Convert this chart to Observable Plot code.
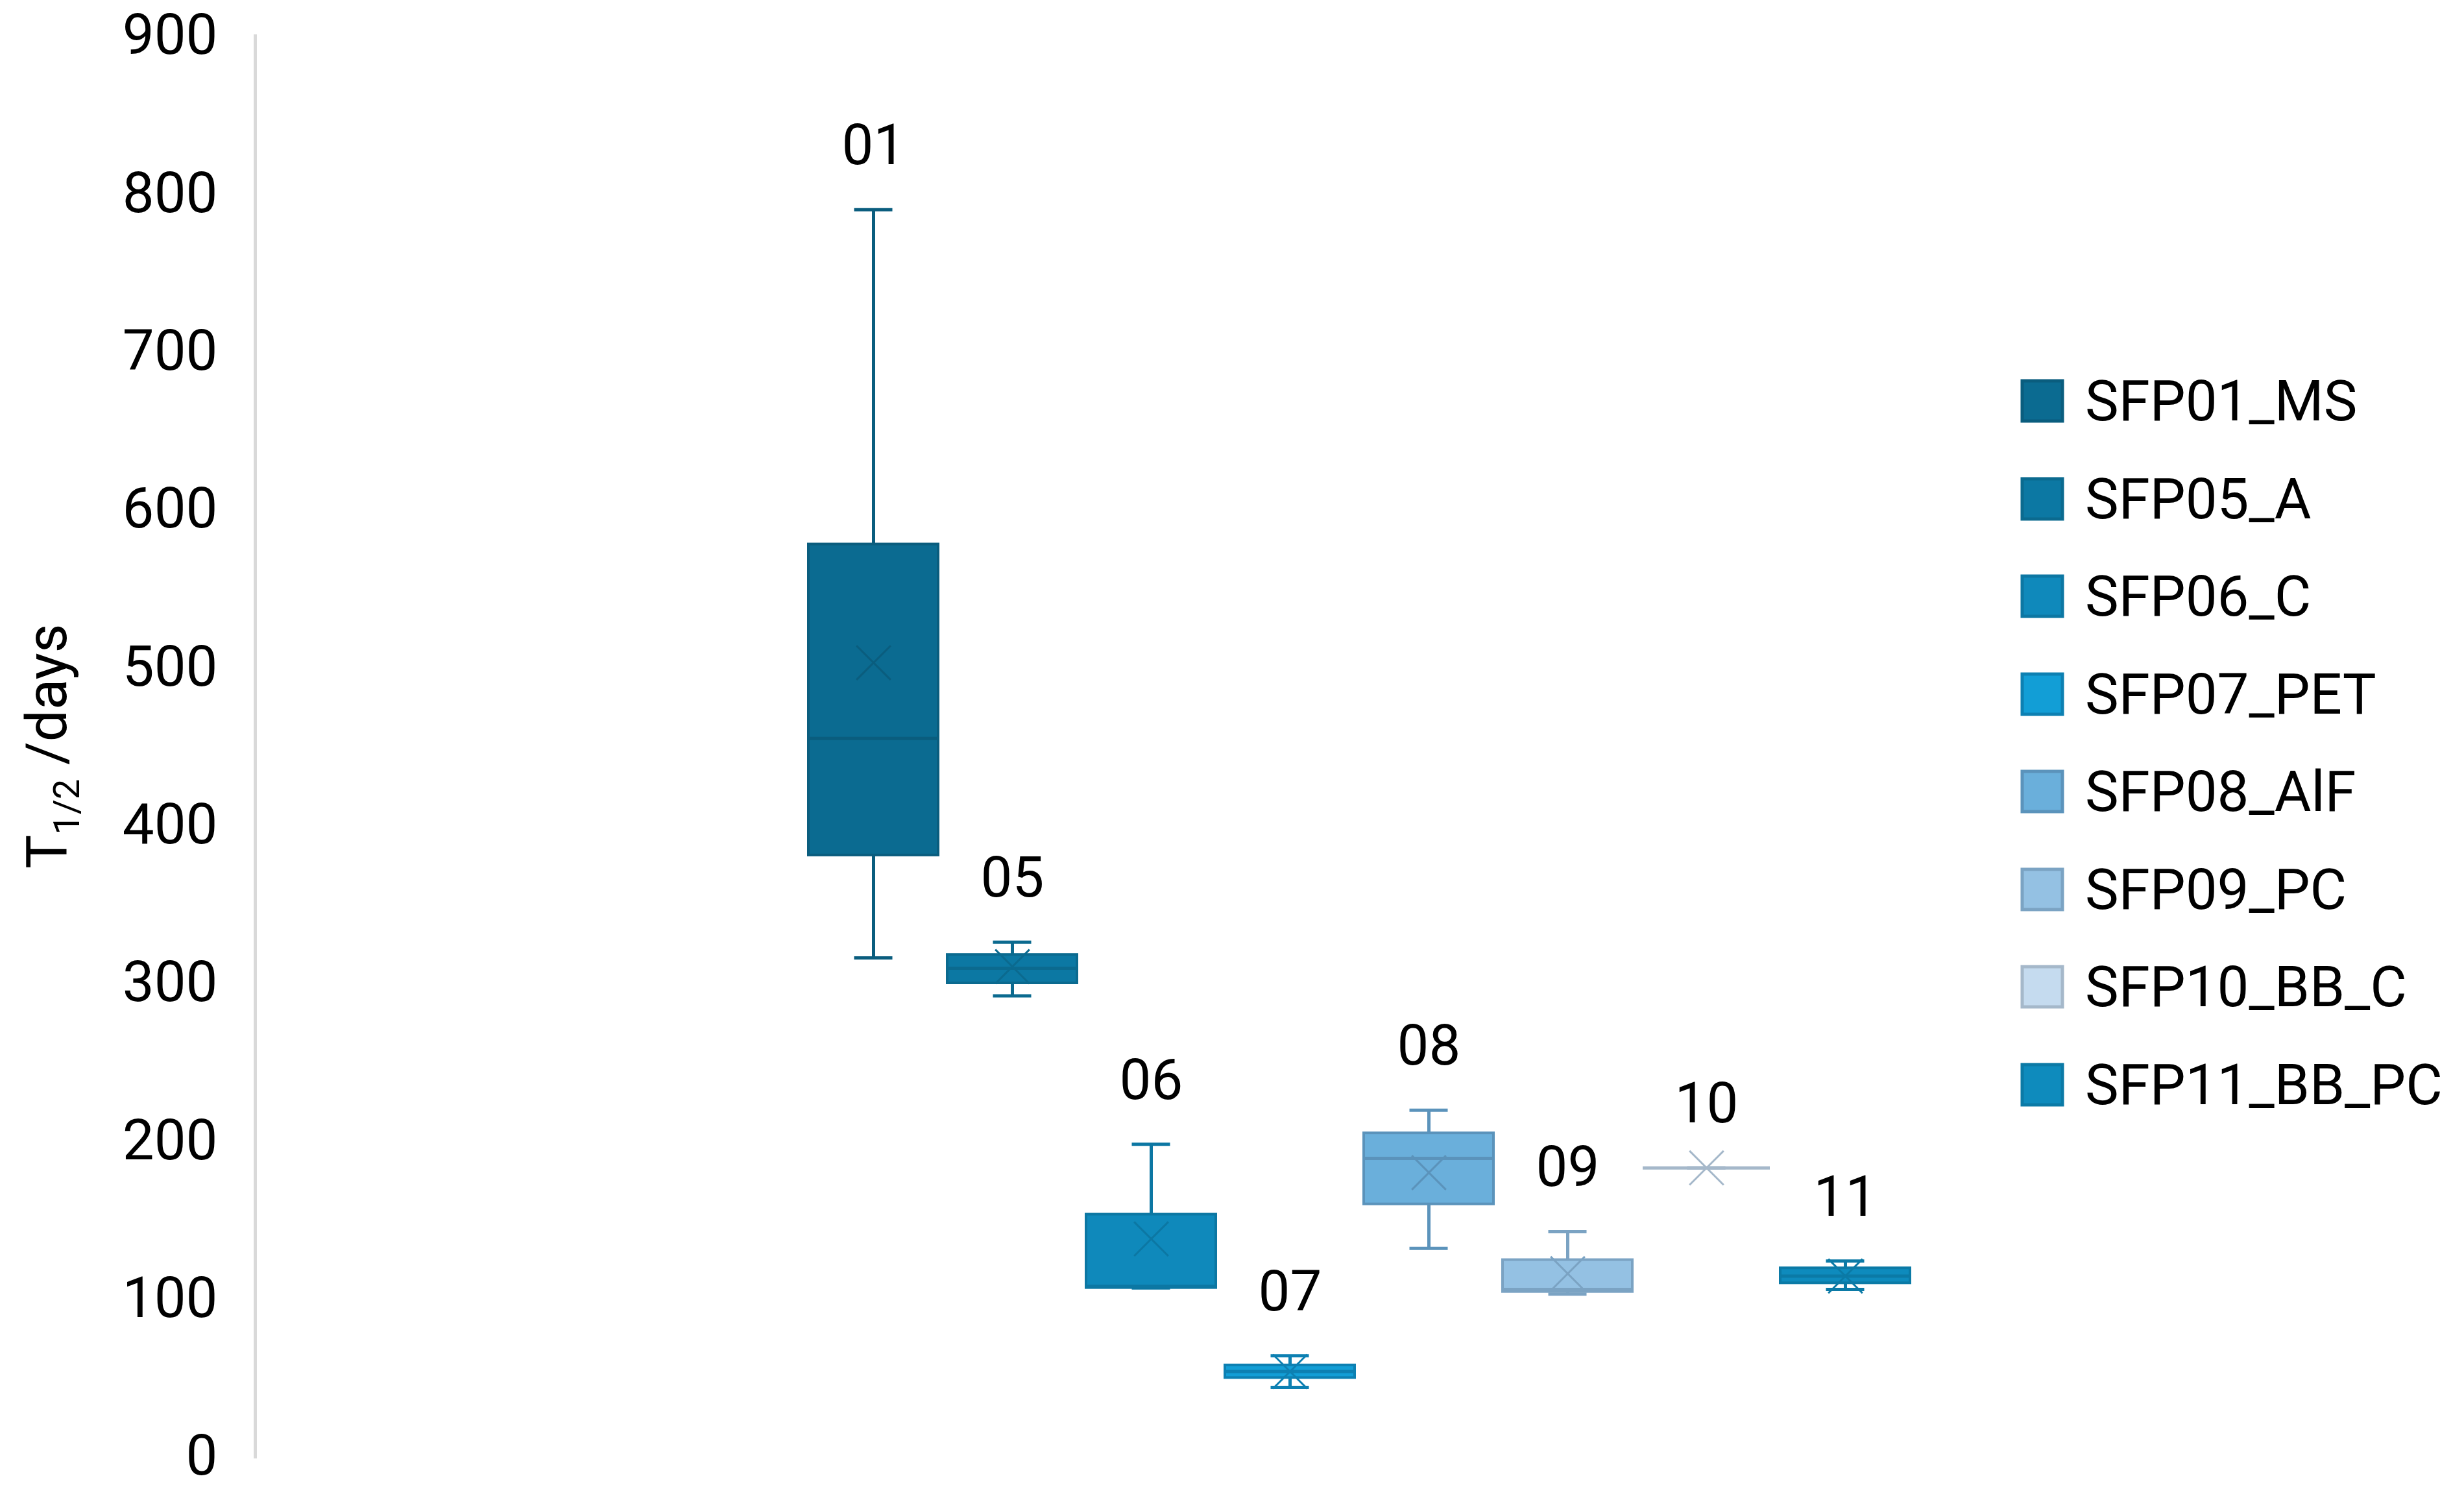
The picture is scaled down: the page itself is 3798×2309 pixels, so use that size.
<!DOCTYPE html>
<html><head><meta charset="utf-8">
<script src="https://cdn.jsdelivr.net/npm/d3@7"></script>
<script src="https://cdn.jsdelivr.net/npm/@observablehq/plot@0.6"></script>
<style>
html,body{margin:0;padding:0;background:#fff;}
#wrap{position:relative;width:3798px;height:2309px;overflow:hidden;font-family:Roboto,sans-serif;background:#fff;}
#chart{position:absolute;left:0;top:0;}
#legend{position:absolute;left:3117px;top:543px;}
#legend .lg-swatches{font-family:Roboto,sans-serif;font-size:87px;color:#000;margin:0;}
#legend .lg-swatches > div{height:150.5px;padding-bottom:0;display:flex;align-items:center;}
#legend .lg-swatches svg{margin-right:35px;overflow:visible;}
</style></head><body>
<div id="wrap"><div id="chart"></div><div id="legend"></div></div>
<script>
const series = ["SFP01_MS","SFP05_A","SFP06_C","SFP07_PET","SFP08_AlF","SFP09_PC","SFP10_BB_C","SFP11_BB_PC"];
const labels = ["01","05","06","07","08","09","10","11"];
const mins    = [316, 292, 107, 44, 132, 103, 183, 106];
const q1s     = [381, 300, 107, 50, 160, 104.5, 183, 110];
const medians = [455, 309.5, 108, 54, 189, 106, 183, 114.5];
const q3s     = [578, 318, 153.5, 58, 205, 124.7, 183, 119.5];
const maxs    = [790, 326, 198, 64, 219.6, 142.6, 183, 124];
const means   = [503, 310.5, 138, 54, 180, 116, 183, 114.5];
const fills   = ["#0b6b91","#0c78a3","#0f89bb","#129ed6","#6aafdb","#94c1e3","#c5dbef","#0e8bbd"];
const strokes = ["#0a5d7e","#0b6a8f","#0c77a3","#0d80b2","#5b93bb","#7ba3c3","#a5b8ca","#0b7aa6"];
const yTicks  = [0,100,200,300,400,500,600,700,800,900];

const data = series.map((s, i) => ({
  series: s, label: labels[i], min: mins[i], q1: q1s[i], median: medians[i],
  q3: q3s[i], max: maxs[i], mean: means[i], fill: fills[i], stroke: strokes[i]
}));

const chart = Plot.plot({
  width: 3798, height: 2309,
  marginLeft: 393, marginRight: 0, marginTop: 55, marginBottom: 64,
  style: {fontFamily: "Roboto, sans-serif", fontSize: "87px", background: "#fff", color: "#000", overflow: "visible"},
  x: {type: "band", domain: series, range: [1243, 2946], paddingInner: 0.067, paddingOuter: 0, axis: null},
  y: {domain: [0, 900]},
  color: {type: "identity"},
  marks: [
    Plot.frame({anchor: "left", stroke: "#d9d9d9", strokeWidth: 5}),
    Plot.axisY(yTicks, {tickSize: 0, tickPadding: 58, label: null, fontSize: 87, fill: "#000"}),
    Plot.ruleX(data, {x: "series", y1: "min", y2: "q1", stroke: "stroke", strokeWidth: 5}),
    Plot.ruleX(data, {x: "series", y1: "q3", y2: "max", stroke: "stroke", strokeWidth: 5}),
    Plot.tickY(data, {x: "series", y: "min", stroke: "stroke", strokeWidth: 5, insetLeft: 70.5, insetRight: 70.5}),
    Plot.tickY(data, {x: "series", y: "max", stroke: "stroke", strokeWidth: 5, insetLeft: 70.5, insetRight: 70.5}),
    Plot.barY(data, {x: "series", y1: "q1", y2: "q3", fill: "fill", stroke: "stroke", strokeWidth: 4}),
    Plot.tickY(data, {x: "series", y: "median", stroke: "stroke", strokeWidth: 5, insetLeft: 2, insetRight: 2}),
    Plot.dot(data, {x: "series", y: "mean", symbol: "times", r: 24, stroke: "stroke", strokeWidth: 3}),
    Plot.text(data, {x: "series", y: "max", text: "label", dy: -98, fill: "#000", fontSize: 87})
  ]
});
document.getElementById("chart").appendChild(chart);

// y-axis title with subscript
const t = d3.select(chart).append("text")
  .attr("transform", "translate(102,1150) rotate(-90)")
  .attr("text-anchor", "middle")
  .attr("font-size", 87)
  .attr("font-family", "Roboto, sans-serif")
  .attr("fill", "#000");
t.append("tspan").text("T");
t.append("tspan").attr("font-size", 56).attr("dy", 20).text("1/2");
t.append("tspan").attr("dy", -20).text(" /days");

// legend
const leg = Plot.legend({
  color: {type: "ordinal", domain: series, range: fills},
  legend: "swatches", columns: 1, swatchSize: 62, className: "lg"
});
d3.select(leg).selectAll("svg rect").each(function(d, i) {
  d3.select(this).attr("stroke", strokes[i]).attr("stroke-width", 5);
});
document.getElementById("legend").appendChild(leg);
</script>
</body></html>
